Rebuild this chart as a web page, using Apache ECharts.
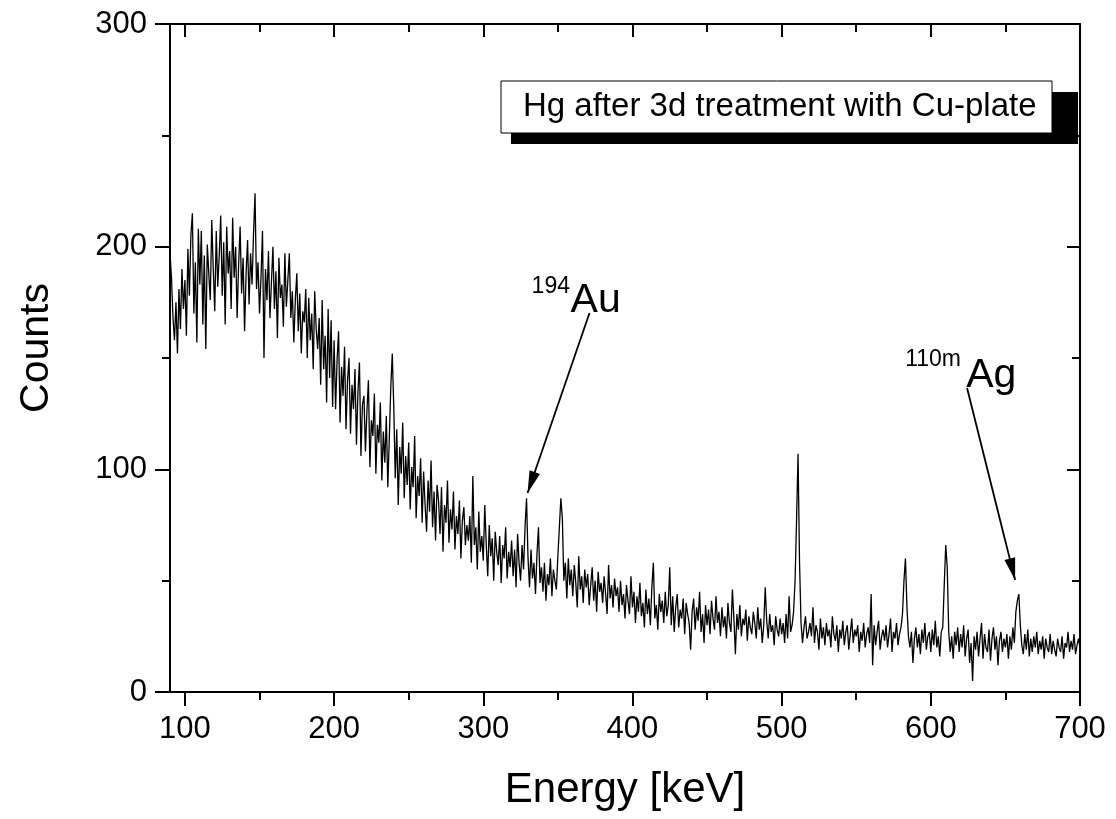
<!DOCTYPE html>
<html>
<head>
<meta charset="utf-8">
<script src="https://cdn.jsdelivr.net/npm/echarts@6/dist/echarts.min.js"></script>
<style>
  html, body { margin: 0; padding: 0; background: #fff; }
  #chart { width: 1116px; height: 819px; }
</style>
</head>
<body>
<div id="chart"></div>
<script>
// ---- data ----
const energyStart = 90;   // keV of first channel
const energyStep = 1;     // keV per channel

const counts090 = [
  197, 186, 168, 158, 175, 152, 181, 163, 190, 172,
  185, 160, 199, 178, 205, 215, 170, 193, 157, 208,
  183, 207, 165, 196, 154, 201, 188, 176, 212, 190,
  171, 207, 182, 196, 214, 178, 202, 165, 209, 188,
  198, 172, 213, 186, 200, 168, 192, 209, 179, 195,
  162, 188, 203, 174, 197, 183, 206, 224, 181, 193,
  170, 186, 207, 150, 190, 176, 198, 168, 184, 200,
  172, 189, 159, 195, 177, 183, 164, 197, 173, 185,
  197, 168, 180, 157, 176, 188, 162, 179, 152, 171,
  166, 181, 150, 177, 158, 170, 145, 180, 163, 154
];
const counts190 = [
  168, 138, 176, 145, 160, 130, 172, 141, 167, 128,
  158, 127, 149, 162, 121, 146, 133, 155, 118, 140,
  150, 116, 138, 127, 145, 111, 135, 148, 106, 129,
  133, 108, 126, 140, 101, 122, 115, 134, 98, 120,
  112, 130, 95, 117, 103, 124, 92, 114, 137, 152,
  128, 96, 118, 84, 110, 98, 121, 87, 106, 93,
  112, 82, 101, 92, 115, 78, 97, 88, 105, 76,
  99, 84, 72, 95, 81, 104, 74, 90, 68, 93,
  86, 71, 92, 63, 84, 76, 95, 67, 82, 73,
  90, 64, 79, 71, 86, 60, 77, 83, 66, 75
];
const counts290 = [
  68, 79, 58, 97, 66, 74, 55, 81, 63, 70,
  59, 84, 66, 52, 75, 61, 69, 50, 72, 63,
  57, 70, 49, 66, 60, 74, 51, 63, 56, 68,
  52, 64, 47, 71, 58, 50, 66, 55, 74, 87,
  60, 47, 64, 51, 58, 44, 62, 74, 49, 56,
  45, 58, 41, 53, 48, 60, 43, 55, 50, 46,
  61, 74, 87, 78, 50, 58, 42, 60, 48, 55,
  43, 57, 49, 38, 61, 46, 52, 40, 55, 47,
  53, 39, 48, 56, 41, 50, 36, 54, 45, 49,
  40, 52, 44, 35, 57, 42, 48, 38, 51, 43
];
const counts390 = [
  47, 36, 50, 39, 44, 33, 48, 41, 35, 52,
  38, 45, 31, 43, 36, 49, 34, 40, 29, 46,
  35, 42, 30, 47, 58, 33, 39, 28, 44, 36,
  41, 31, 45, 34, 39, 56, 30, 43, 27, 38,
  44, 29, 37, 33, 42, 26, 40, 35, 31, 19,
  36, 42, 28, 38, 32, 45, 27, 35, 22, 39,
  30, 37, 26, 41, 33, 28, 43, 31, 36, 25,
  38, 29, 34, 24, 40, 31, 27, 46, 33, 17,
  35, 28, 39, 25, 33, 30, 37, 23, 34, 29,
  26, 36, 31, 24, 38, 28, 33, 22, 30, 47
];
const counts490 = [
  32, 24, 35, 27, 30, 21, 34, 28, 25, 33,
  26, 31, 22, 35, 24, 43, 27, 30, 36, 50,
  77, 107, 58, 31, 22, 29, 34, 24, 27, 31,
  25, 38, 22, 30, 27, 19, 33, 24, 29, 21,
  31, 25, 28, 20, 34, 26, 23, 30, 18, 28,
  24, 32, 21, 27, 30, 19, 26, 33, 22, 28,
  25, 30, 18, 27, 23, 31, 20, 26, 29, 22,
  44, 12, 30, 21, 27, 32, 19, 25, 28, 23,
  30, 20, 26, 33, 18, 27, 24, 31, 21, 26,
  29, 35, 50, 60, 38, 25, 20, 27, 13, 24
];
const counts590 = [
  29, 20, 26, 17, 28, 22, 31, 19, 25, 27,
  18, 28, 21, 32, 20, 25, 16, 27, 29, 48,
  66, 56, 27, 18, 25, 15, 27, 21, 29, 18,
  26, 20, 30, 16, 24, 28, 13, 22, 5, 25,
  19, 27, 16, 24, 31, 15, 26, 20, 18, 28,
  14, 24, 29, 19, 25, 12, 23, 27, 18, 24,
  20, 26, 15, 25, 19, 29, 22, 36, 41, 44,
  30, 21, 17, 26, 19, 28, 16, 24, 18, 25,
  20, 27, 17, 23, 19, 25, 15, 24, 20, 18,
  26, 17, 23, 19, 16, 24, 20, 18, 25, 15
];
const counts690 = [22, 20, 27, 18, 23, 19, 26, 17, 21, 24, 20];

const xTicks = [100, 200, 300, 400, 500, 600, 700];
const xMinorTicks = [150, 250, 350, 450, 550, 650];
const yTickLabels = [0, 100, 200, 300];

const seriesName = 'Hg after 3d treatment with Cu-plate';

// ---- build ----
const allCounts = [].concat(counts090, counts190, counts290, counts390, counts490, counts590, counts690);
const spectrum = allCounts.map((c, i) => [energyStart + i * energyStep, c]);

const FONT = 'Liberation Sans, Arial, sans-serif';
const black = '#000';
const axisLineStyle = { color: black, width: 2 };

function xAxisDef(position, values, len, inside, withLine, withLabels) {
  return {
    type: 'value', position: position, min: 90, max: 700, offset: 0,
    axisLine: { show: withLine, onZero: false, lineStyle: axisLineStyle },
    axisTick: { show: true, inside: inside, length: len, customValues: values, lineStyle: { color: black, width: 2 } },
    axisLabel: withLabels ? { show: true, customValues: values, fontFamily: FONT, fontSize: 31, color: black, margin: 22 } : { show: false },
    splitLine: { show: false }
  };
}

const chart = echarts.init(document.getElementById('chart'), null, { renderer: 'canvas' });
const supStyle = { fontFamily: FONT, fontSize: 23, color: black };
const bigStyle = { fontFamily: FONT, fontSize: 41, color: black };

function textPoint(coord, text, style) {
  return {
    coord: coord, symbol: 'circle', symbolSize: 0,
    label: Object.assign({ show: true, formatter: text, position: [0, 0], align: 'left', verticalAlign: 'top' }, style)
  };
}
function arrowEnd(coord) {
  return { coord: coord, symbol: 'triangle', symbolSize: [11, 22], symbolOffset: [0, 11] };
}

chart.setOption({
  backgroundColor: '#fff',
  animation: false,
  grid: { left: 170, right: 36, top: 24, bottom: 127, outerBoundsMode: 'none' },
  graphic: [
    { type: 'rect', z: 5, silent: true, shape: { x: 511, y: 92, width: 567, height: 52 }, style: { fill: black } },
    { type: 'rect', z: 6, silent: true, shape: { x: 501, y: 81, width: 551, height: 52 }, style: { fill: '#fff', stroke: black, lineWidth: 1 } }
  ],
  legend: {
    show: true,
    z: 10,
    data: [seriesName],
    left: 501, top: 81,
    itemWidth: 0, itemHeight: 0, itemGap: 0,
    padding: [9, 17, 9, 16],
    backgroundColor: 'transparent',
    borderWidth: 0,
    textStyle: { fontFamily: FONT, fontSize: 33, color: black },
    selectedMode: false
  },
  xAxis: [
    Object.assign(xAxisDef('bottom', xTicks, 14, false, true, true), {
      name: 'Energy [keV]', nameLocation: 'middle', nameGap: 77,
      nameTextStyle: { fontFamily: FONT, fontSize: 42, color: black }
    }),
    xAxisDef('bottom', xMinorTicks, 8, false, false, false),
    xAxisDef('top', xTicks, 13, true, true, false),
    xAxisDef('top', xMinorTicks, 8, true, false, false)
  ],
  yAxis: [
    {
      type: 'value', position: 'left', min: 0, max: 300, interval: 100,
      name: 'Counts', nameLocation: 'middle', nameGap: 113, nameRotate: 90,
      nameTextStyle: { fontFamily: FONT, fontSize: 41, color: black, padding: [0, 0, 0, 20] },
      axisLine: { show: true, onZero: false, lineStyle: axisLineStyle },
      axisTick: { show: true, inside: false, length: 15, lineStyle: { color: black, width: 2 } },
      minorTick: { show: true, splitNumber: 2, length: 8, lineStyle: { color: black, width: 2 } },
      axisLabel: { show: true, customValues: yTickLabels, fontFamily: FONT, fontSize: 31, color: black, margin: 23 },
      splitLine: { show: false }, minorSplitLine: { show: false }
    },
    {
      type: 'value', position: 'right', min: 0, max: 300, interval: 100,
      axisLine: { show: true, onZero: false, lineStyle: axisLineStyle },
      axisTick: { show: true, inside: true, length: 13, lineStyle: { color: black, width: 2 } },
      minorTick: { show: true, splitNumber: 2, length: 8, lineStyle: { color: black, width: 2 } },
      axisLabel: { show: false },
      splitLine: { show: false }, minorSplitLine: { show: false }
    }
  ],
  series: [
    {
      name: seriesName,
      type: 'line',
      xAxisIndex: 0, yAxisIndex: 0,
      data: spectrum,
      showSymbol: false,
      sampling: null,
      lineStyle: { color: black, width: 1.3 },
      itemStyle: { color: black },
      silent: true,
      markLine: {
        silent: true, animation: false,
        symbol: ['none', 'triangle'], symbolSize: [0, 16],
        label: { show: false },
        itemStyle: { color: black },
        lineStyle: { color: black, width: 1.8, type: 'solid' },
        emphasis: { disabled: true },
        data: [
          [{ coord: [371.2, 170.2], symbol: 'none' }, arrowEnd([329.7, 89.4])],
          [{ coord: [624.3, 136.5], symbol: 'none' }, arrowEnd([656.5, 50.3])]
        ]
      },
      markPoint: {
        silent: true, animation: false,
        data: [
          textPoint([332.4, 187.3], '194', supStyle),
          textPoint([358.5, 185.1], 'Au', bigStyle),
          textPoint([582.8, 154.4], '110m', supStyle),
          textPoint([623.7, 151.4], 'Ag', bigStyle)
        ]
      }
    }
  ]
});
</script>
</body>
</html>
